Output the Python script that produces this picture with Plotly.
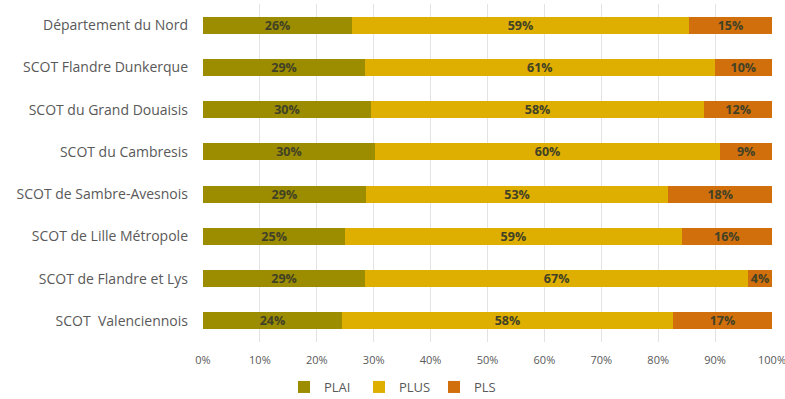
import plotly.graph_objects as go

categories = ["Département du Nord", "SCOT Flandre Dunkerque", "SCOT du Grand Douaisis",
              "SCOT du Cambresis", "SCOT de Sambre-Avesnois", "SCOT de Lille Métropole",
              "SCOT de Flandre et Lys", "SCOT  Valenciennois"]
plai = [26.2, 28.5, 29.5, 30.2, 28.6, 25.0, 28.5, 24.4]
plus = [59.2, 61.4, 58.6, 60.7, 53.2, 59.1, 67.3, 58.2]
pls = [14.6, 10.1, 11.9, 9.1, 18.2, 15.9, 4.2, 17.4]
plai_txt = ["26%", "29%", "30%", "30%", "29%", "25%", "29%", "24%"]
plus_txt = ["59%", "61%", "58%", "60%", "53%", "59%", "67%", "58%"]
pls_txt = ["15%", "10%", "12%", "9%", "18%", "16%", "4%", "17%"]
x_ticks = [0, 10, 20, 30, 40, 50, 60, 70, 80, 90, 100]
x_tick_labels = ["0%", "10%", "20%", "30%", "40%", "50%", "60%", "70%", "80%", "90%", "100%"]

series = [("PLAI", plai, plai_txt, "#9b8c00"),
          ("PLUS", plus, plus_txt, "#deae00"),
          ("PLS", pls, pls_txt, "#d06f0c")]

fig = go.Figure()
for name, vals, txt, col in series:
    fig.add_trace(go.Bar(
        name=name, y=categories, x=vals, orientation="h",
        marker=dict(color=col, line=dict(width=0)),
        text=txt, textposition="inside", insidetextanchor="middle",
        constraintext="none", textangle=0,
        textfont=dict(family="Open Sans", size=12.5, color="#414126", weight="bold"),
        hoverinfo="skip",
    ))

fig.update_layout(
    barmode="stack", bargap=0.6,
    width=785, height=399,
    margin=dict(l=203, r=13, t=4, b=57, autoexpand=False),
    paper_bgcolor="white", plot_bgcolor="white",
    font=dict(family="Open Sans", color="#595959"),
    legend=dict(orientation="h", x=(284 - 203) / 569, xref="paper", y=-45 / 338, yref="paper",
                xanchor="left", yanchor="middle",
                font=dict(size=13, color="#595959"), traceorder="normal",
                itemwidth=30, entrywidth=30, entrywidthmode="pixels"),
    showlegend=True,
)
fig.update_xaxes(range=[0, 100], tickvals=x_ticks, ticktext=x_tick_labels,
                 showgrid=True, gridcolor="#e3e3e3", gridwidth=1,
                 zeroline=False, showline=False, ticklabeloverflow="allow",
                 tickfont=dict(size=11, color="#595959"), ticklabelstandoff=10)
fig.update_yaxes(autorange="reversed", categoryorder="array", categoryarray=categories,
                 showgrid=False, showline=False, ticks="",
                 tickfont=dict(size=14, color="#595959"), ticklabelstandoff=14)

fig.write_html("out.html")
